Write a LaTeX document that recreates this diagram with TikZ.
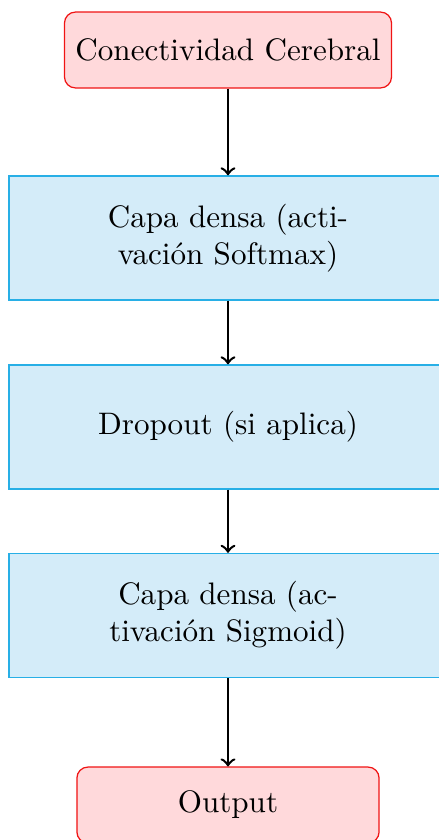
\documentclass[tikz,border=0pt]{standalone}
\usetikzlibrary{positioning}
\definecolor{endfill}{RGB}{255,217,219}
\definecolor{endline}{RGB}{240,20,20}
\definecolor{layerfill}{RGB}{212,236,249}
\definecolor{layerline}{RGB}{40,175,230}
\tikzset{
  px/.style={x=0.3217pt,y=-0.3217pt},
  endpoint/.style={draw=endline, fill=endfill, rounded corners=3.5pt,
    minimum height=24.4pt, align=center},
  layer/.style={draw=layerline, fill=layerfill, minimum width=140.9pt,
    minimum height=39.9pt, align=center},
  flow/.style={->, thick, black}
}
\begin{document}
\begin{tikzpicture}[px]
  \useasboundingbox (0,0) rectangle (438,840);
  \node[endpoint, minimum width=105.2pt] (src) at (228,50) {Conectividad Cerebral};
  \node[layer] (l1) at (228,238) {Capa densa (acti-\\vación Softmax)};
  \node[layer] (l2) at (228,427) {Dropout (si aplica)};
  \node[layer] (l3) at (228,615.5) {Capa densa (ac-\\tivación Sigmoid)};
  \node[endpoint, minimum width=97.2pt] (out) at (228,805) {Output};
  \draw[flow] (src) -- (l1);
  \draw[flow] (l1) -- (l2);
  \draw[flow] (l2) -- (l3);
  \draw[flow] (l3) -- (out);
\end{tikzpicture}
\end{document}
